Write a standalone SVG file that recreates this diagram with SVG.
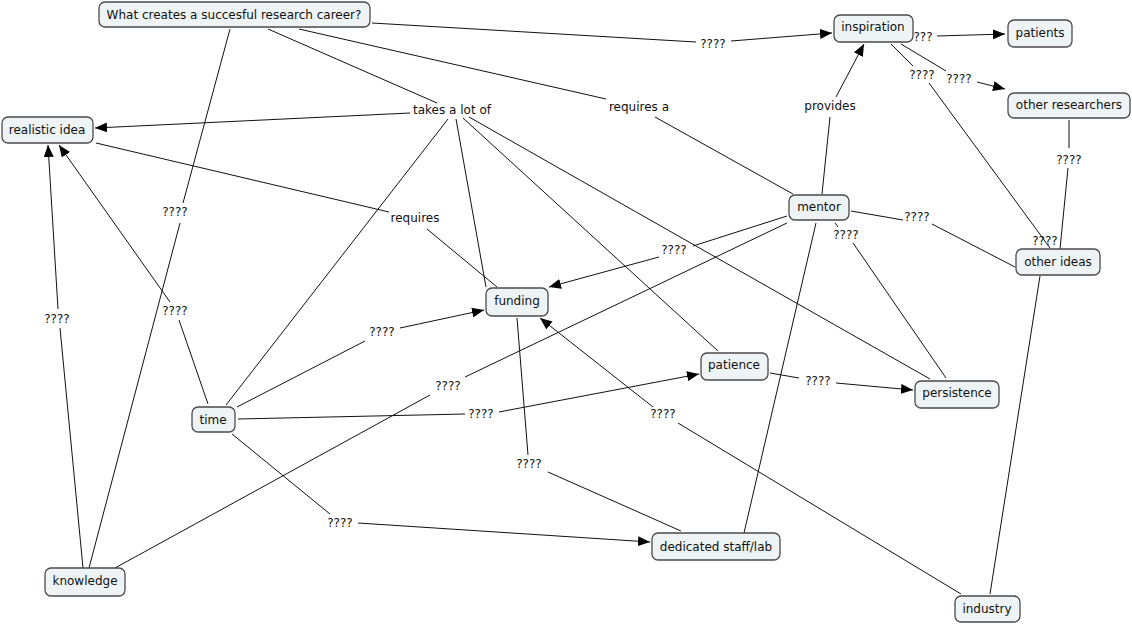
<svg xmlns="http://www.w3.org/2000/svg" width="1132" height="624" viewBox="0 0 1132 624">
<style>
.n rect{fill:#eef3f5;stroke:#4a4a4a;stroke-width:1.3}
text{font-family:"DejaVu Sans","Liberation Sans",sans-serif;font-size:12px;fill:#111;text-anchor:middle}
.c path{fill:none;stroke:#111;stroke-width:1}
.a{marker-end:url(#ah)}
</style>
<defs>
<marker id="ah" viewBox="0 0 12 10" refX="12" refY="5" markerWidth="12" markerHeight="10" markerUnits="userSpaceOnUse" orient="auto">
<path d="M0,0 L12,5 L0,10 z" fill="#000"/>
</marker>
</defs>
<rect width="1132" height="624" fill="#fff"/>
<g id="connectors" class="c">
<path d="M372,23 L696,42"/><path class="a" d="M731,41 L832,33"/>
<path d="M268,29 L437,103"/>
<path d="M299,29 L606,99"/><path d="M655,117 L793,194"/>
<path d="M230,29 L183,203"/><path d="M180,223 L89,568"/>
<path class="a" d="M410,113 L95,128"/>
<path d="M448,119 L226,405"/>
<path d="M456,119 L486,287"/>
<path d="M463,118 L718,351"/>
<path d="M469,117 L930,379"/>
<path d="M96,143 L389,212"/><path d="M427,229 L497,287"/>
<path d="M822,194 L830,117"/><path class="a" d="M836,97 L864,44"/>
<path d="M787,216 L693,246"/><path class="a" d="M659,257 L549,287"/>
<path d="M787,223 L465,377"/><path d="M430,395 L115,568"/>
<path d="M851,211 L903,220"/><path d="M932,224 L1015,267"/>
<path d="M835,223 L838,227"/><path d="M853,243 L946,378"/>
<path d="M816,223 L744,533"/>
<path class="a" d="M937,36 L1005,34"/>
<path d="M901,44 L946,71"/><path class="a" d="M977,82 L1005,89"/>
<path d="M891,44 L913,66"/><path d="M929,83 L1050,248"/>
<path d="M1069,120 L1069,148"/><path d="M1068,168 L1060,249"/>
<path d="M1040,276 L990,594"/>
<path d="M208,404 L179,320"/><path class="a" d="M170,302 L59,145"/>
<path d="M237,407 L365,341"/><path class="a" d="M400,328 L484,310"/>
<path d="M238,419 L465,414"/><path class="a" d="M499,412 L699,374"/>
<path d="M232,434 L330,514"/><path class="a" d="M358,523 L650,542"/>
<path d="M83,568 L60,328"/><path class="a" d="M58,309 L48,145"/>
<path d="M517,318 L528,455"/><path d="M548,472 L681,531"/>
<path d="M961,594 L678,423"/><path class="a" d="M653,407 L540,318"/>
<path d="M770,373 L799,378"/><path class="a" d="M836,383 L913,390"/>
</g>
<g id="linking-phrases">
<text x="452" y="114">takes a lot of</text>
<text x="639" y="111">requires a</text>
<text x="830" y="110">provides</text>
<text x="415" y="222">requires</text>
<text x="713" y="48">????</text>
<text x="923" y="41">???</text>
<text x="922" y="79">????</text>
<text x="959" y="83">????</text>
<text x="1069" y="164">????</text>
<text x="917" y="221">????</text>
<text x="846" y="239">????</text>
<text x="674" y="254">????</text>
<text x="1045" y="245">????</text>
<text x="175" y="216">????</text>
<text x="175" y="315">????</text>
<text x="57" y="323">????</text>
<text x="382" y="336">????</text>
<text x="448" y="390">????</text>
<text x="481" y="418">????</text>
<text x="818" y="385">????</text>
<text x="663" y="418">????</text>
<text x="529" y="468">????</text>
<text x="340" y="527">????</text>
</g>
<g id="node-career" class="n"><rect x="99" y="2" width="271" height="25" rx="6"/><text x="234" y="19">What creates a succesful research career?</text></g>
<g id="node-realistic-idea" class="n"><rect x="2" y="117" width="91" height="26" rx="6"/><text x="47" y="134">realistic idea</text></g>
<g id="node-inspiration" class="n"><rect x="834" y="15" width="79" height="27" rx="6"/><text x="873" y="31">inspiration</text></g>
<g id="node-patients" class="n"><rect x="1008" y="20" width="64" height="27" rx="6"/><text x="1040" y="37">patients</text></g>
<g id="node-other-researchers" class="n"><rect x="1008" y="93" width="122" height="25" rx="6"/><text x="1069" y="109">other researchers</text></g>
<g id="node-mentor" class="n"><rect x="789" y="195" width="60" height="25" rx="6"/><text x="819" y="211">mentor</text></g>
<g id="node-other-ideas" class="n"><rect x="1016" y="249" width="84" height="26" rx="6"/><text x="1058" y="266">other ideas</text></g>
<g id="node-funding" class="n"><rect x="486" y="288" width="62" height="28" rx="6"/><text x="517" y="305">funding</text></g>
<g id="node-time" class="n"><rect x="192" y="407" width="43" height="25" rx="6"/><text x="213" y="424">time</text></g>
<g id="node-patience" class="n"><rect x="701" y="353" width="67" height="27" rx="6"/><text x="734" y="369">patience</text></g>
<g id="node-persistence" class="n"><rect x="915" y="381" width="84" height="27" rx="6"/><text x="957" y="397">persistence</text></g>
<g id="node-dedicated-staff-lab" class="n"><rect x="652" y="533" width="128" height="27" rx="6"/><text x="716" y="551">dedicated staff/lab</text></g>
<g id="node-industry" class="n"><rect x="955" y="596" width="65" height="26" rx="6"/><text x="987" y="613">industry</text></g>
<g id="node-knowledge" class="n"><rect x="45" y="568" width="80" height="28" rx="6"/><text x="85" y="585">knowledge</text></g>
</svg>
